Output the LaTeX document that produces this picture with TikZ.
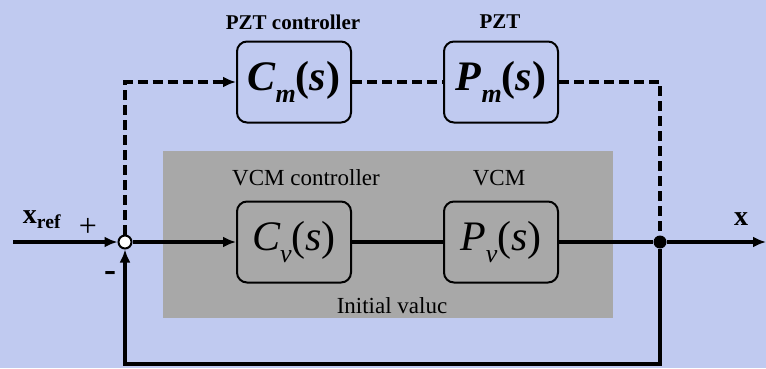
\documentclass[tikz,border=0pt]{standalone}
\usepackage{fontspec}
\setmainfont{Liberation Serif}
\usetikzlibrary{arrows.meta}
\definecolor{mosaic}{RGB}{192,202,240}
\definecolor{vcmgray}{RGB}{168,168,168}
\newcommand{\lowsub}[1]{\raisebox{-0.28em}{\fontsize{26}{26}\selectfont #1}}

\begin{document}
\begin{tikzpicture}[x=1pt,y=-1pt,
  blk/.style={draw,line width=2pt,rounded corners=10pt,minimum width=114pt,minimum height=81pt,inner sep=0pt,font=\fontsize{42}{48}\selectfont},
  sig/.style={line width=3.6pt},
  dsh/.style={line width=3.6pt,dash pattern=on 10pt off 5pt},
  lbl/.style={font=\fontsize{23}{26}\selectfont},
  tip/.style={-{Latex[length=13pt,width=11pt]}}]
% background and VCM region
\fill[mosaic] (0,0) rectangle (766,368);
\useasboundingbox (0,0) rectangle (766,368);
\fill[vcmgray] (163,151) rectangle (613,318);
% blocks
\node[blk] (Cm) at (294,82) {\bfseries\itshape C\lowsub{m}\upshape(\itshape s\upshape)};
\node[blk] (Pm) at (501,82) {\bfseries\itshape P\lowsub{m}\upshape(\itshape s\upshape)};
\node[blk] (Cv) at (294,242) {\itshape C\lowsub{v}\upshape(\itshape s\upshape)};
\node[blk] (Pv) at (501,242) {\itshape P\lowsub{v}\upshape(\itshape s\upshape)};
% block titles
\node[lbl,font=\fontsize{21}{24}\selectfont\bfseries] (tCm) at (293,22) {PZT controller};
\node[lbl,font=\fontsize{21}{24}\selectfont\bfseries] (tPm) at (500,22) {PZT};
\node[lbl] (tCv) at (306,178) {VCM controller};
\node[lbl] (tPv) at (499,178) {VCM};
\node[lbl] (init) at (392,306) {Initial valuc};
% summing point and pick-off
\node[draw,circle,line width=2pt,fill=white,minimum size=13pt,inner sep=0pt] (sum) at (125,242) {};
\node[circle,fill=black,minimum size=13pt,inner sep=0pt] (jn) at (660,242) {};
\coordinate (in) at (13,242);
\coordinate (out) at (766,242);
\coordinate (fb) at (125,364);
% signs and signal names
\node[font=\fontsize{28}{30}\selectfont\bfseries] (xref) at (42,220) {x\textsubscript{ref}};
\node[font=\fontsize{32}{32}\selectfont] (plus) at (88,227) {+};
\node[font=\fontsize{36}{36}\selectfont\bfseries] (minus) at (110,276) {-};
\node[font=\fontsize{28}{30}\selectfont\bfseries] (xout) at (741,219) {x};
% VCM loop
\draw[sig,tip] (in) -- (sum);
\draw[sig,tip] (sum) -- (Cv);
\draw[sig] (Cv) -- (Pv);
\draw[sig] (Pv) -- (jn);
\draw[sig,tip] (jn) -- (out);
\draw[sig,tip] (jn) |- (fb) -- (sum);
% PZT path
\draw[dsh,tip] (sum) |- (Cm);
\draw[dsh] (Cm) -- (Pm);
\draw[dsh] (Pm) -| (jn);
\end{tikzpicture}
\end{document}
